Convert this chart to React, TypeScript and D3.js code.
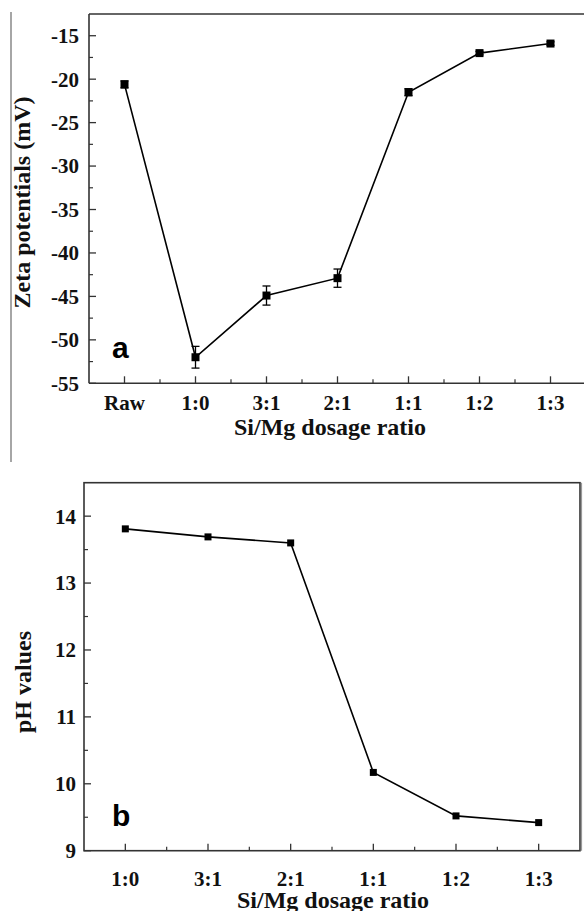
import React from "react";
import * as d3 from "d3";

const catsA = ["Raw", "1:0", "3:1", "2:1", "1:1", "1:2", "1:3"];
const zeta = [-20.6, -52.0, -44.9, -42.9, -21.5, -17.0, -15.9];
const zetaErr = [0.4, 1.25, 1.1, 1.05, 0.4, 0.2, 0.2];
const zetaTicks = [-15, -20, -25, -30, -35, -40, -45, -50, -55];

const catsB = ["1:0", "3:1", "2:1", "1:1", "1:2", "1:3"];
const ph = [13.81, 13.69, 13.6, 10.17, 9.52, 9.42];
const phTicks = [9, 10, 11, 12, 13, 14];

const SERIF = "Liberation Serif, Times New Roman, Times, DejaVu Serif, serif";
const SANS = "Liberation Sans, Arial, Helvetica, sans-serif";
const AX = "#333";

const serif = (size: number) => ({ fontFamily: SERIF, fontWeight: 700, fontSize: size });

export default function App() {
  // Panel a
  const xa = d3.scaleLinear().domain([-0.5, 6.5]).range([89, 586]);
  const ya = d3.scaleLinear().domain([-55, -12.5]).range([383.3, 14]);
  const lineA = d3
    .line<number>()
    .x((_, i) => xa(i))
    .y((d) => ya(d));
  const minorYA = d3.range(-52.5, -12.5, 5);
  const minorXA = d3.range(0.5, 6.5, 1);

  // Panel b
  const xb = d3.scaleLinear().domain([-0.5, 5.5]).range([84, 580]);
  const yb = d3.scaleLinear().domain([9, 14.5]).range([850.7, 482.7]);
  const lineB = d3
    .line<number>()
    .x((_, i) => xb(i))
    .y((d) => yb(d));
  const minorYB = d3.range(9.5, 14.5, 1);
  const minorXB = d3.range(0.5, 5.5, 1);

  const [a0, a1] = ya.range();
  const [b0, b1] = yb.range();

  return (
    <svg
      width={584}
      height={911}
      style={{ position: "absolute", left: 0, top: 0, background: "#fff" }}
    >
      <rect x={0} y={0} width={584} height={911} fill="#fff" />
      {/* grey divider line at left */}
      <line x1={11} y1={12} x2={11} y2={462} stroke="#888" strokeWidth={1.5} />

      {/* ---------- Panel a ---------- */}
      <g>
        <line x1={xa(-0.5)} y1={a1} x2={xa(-0.5)} y2={a0} stroke={AX} strokeWidth={1.6} />
        <line x1={xa(-0.5)} y1={a0} x2={xa(6.5)} y2={a0} stroke={AX} strokeWidth={1.6} />
        <line x1={xa(-0.5)} y1={a1} x2={xa(6.5)} y2={a1} stroke={AX} strokeWidth={1.6} />
        <line x1={xa(6.5)} y1={a1} x2={xa(6.5)} y2={a0} stroke={AX} strokeWidth={1.6} />
        {zetaTicks.map((t) => (
          <g key={"yt" + t}>
            <line x1={xa(-0.5)} x2={xa(-0.5) + 7} y1={ya(t)} y2={ya(t)} stroke={AX} strokeWidth={1.3} />
            <text x={79} y={ya(t)} dy="0.35em" textAnchor="end" style={serif(21)} fill="#111">
              {t}
            </text>
          </g>
        ))}
        {minorYA.map((t) => (
          <line key={"ym" + t} x1={xa(-0.5)} x2={xa(-0.5) + 4} y1={ya(t)} y2={ya(t)} stroke={AX} strokeWidth={1.2} />
        ))}
        {catsA.map((c, i) => (
          <g key={"xt" + c}>
            <line x1={xa(i)} x2={xa(i)} y1={a0} y2={a0 - 7} stroke={AX} strokeWidth={1.3} />
            <text x={xa(i)} y={410} textAnchor="middle" style={serif(21)} fill="#111">
              {c}
            </text>
          </g>
        ))}
        {minorXA.map((t) => (
          <line key={"xm" + t} x1={xa(t)} x2={xa(t)} y1={a0} y2={a0 - 4} stroke={AX} strokeWidth={1.2} />
        ))}
        <path d={lineA(zeta) || ""} fill="none" stroke="#000" strokeWidth={1.6} />
        {zeta.map((v, i) => (
          <g key={"ea" + i}>
            <line x1={xa(i)} x2={xa(i)} y1={ya(v - zetaErr[i])} y2={ya(v + zetaErr[i])} stroke="#000" strokeWidth={1.3} />
            <line x1={xa(i) - 4} x2={xa(i) + 4} y1={ya(v - zetaErr[i])} y2={ya(v - zetaErr[i])} stroke="#000" strokeWidth={1.3} />
            <line x1={xa(i) - 4} x2={xa(i) + 4} y1={ya(v + zetaErr[i])} y2={ya(v + zetaErr[i])} stroke="#000" strokeWidth={1.3} />
            <rect x={xa(i) - 4} y={ya(v) - 4} width={8} height={8} fill="#000" />
          </g>
        ))}
        <text x={112} y={358} style={{ fontFamily: SANS, fontWeight: 700, fontSize: 30 }} fill="#000">
          a
        </text>
        <text transform={`translate(30, 202.5) rotate(-90)`} textAnchor="middle" style={serif(24)} fill="#111">
          Zeta potentials (mV)
        </text>
        <text x={330} y={435} textAnchor="middle" style={serif(24)} fill="#111">
          Si/Mg dosage ratio
        </text>
      </g>

      {/* ---------- Panel b ---------- */}
      <g>
        <rect
          x={xb(-0.5)}
          y={b1}
          width={xb(5.5) - xb(-0.5)}
          height={b0 - b1}
          fill="none"
          stroke={AX}
          strokeWidth={1.6}
        />
        <line x1={xb(5.5) + 1.5} y1={b1} x2={xb(5.5) + 1.5} y2={b0} stroke="#999" strokeWidth={1.2} />
        {phTicks.map((t) => (
          <g key={"ybt" + t}>
            <line x1={xb(-0.5)} x2={xb(-0.5) + 7} y1={yb(t)} y2={yb(t)} stroke={AX} strokeWidth={1.3} />
            <text x={76} y={yb(t)} dy="0.35em" textAnchor="end" style={serif(21)} fill="#111">
              {t}
            </text>
          </g>
        ))}
        {minorYB.map((t) => (
          <line key={"ybm" + t} x1={xb(-0.5)} x2={xb(-0.5) + 4} y1={yb(t)} y2={yb(t)} stroke={AX} strokeWidth={1.2} />
        ))}
        {catsB.map((c, i) => (
          <g key={"xbt" + c}>
            <line x1={xb(i)} x2={xb(i)} y1={b0} y2={b0 - 7} stroke={AX} strokeWidth={1.3} />
            <text x={xb(i)} y={886} textAnchor="middle" style={serif(21)} fill="#111">
              {c}
            </text>
          </g>
        ))}
        {minorXB.map((t) => (
          <line key={"xbm" + t} x1={xb(t)} x2={xb(t)} y1={b0} y2={b0 - 4} stroke={AX} strokeWidth={1.2} />
        ))}
        <path d={lineB(ph) || ""} fill="none" stroke="#000" strokeWidth={1.6} />
        {ph.map((v, i) => (
          <rect key={"pb" + i} x={xb(i) - 3.5} y={yb(v) - 3.5} width={7} height={7} fill="#000" />
        ))}
        <text x={112} y={826} style={{ fontFamily: SANS, fontWeight: 700, fontSize: 30 }} fill="#000">
          b
        </text>
        <text transform={`translate(31, 682) rotate(-90)`} textAnchor="middle" style={serif(24)} fill="#111">
          pH values
        </text>
        <text x={333} y={908} textAnchor="middle" style={serif(24)} fill="#111">
          Si/Mg dosage ratio
        </text>
      </g>
    </svg>
  );
}
